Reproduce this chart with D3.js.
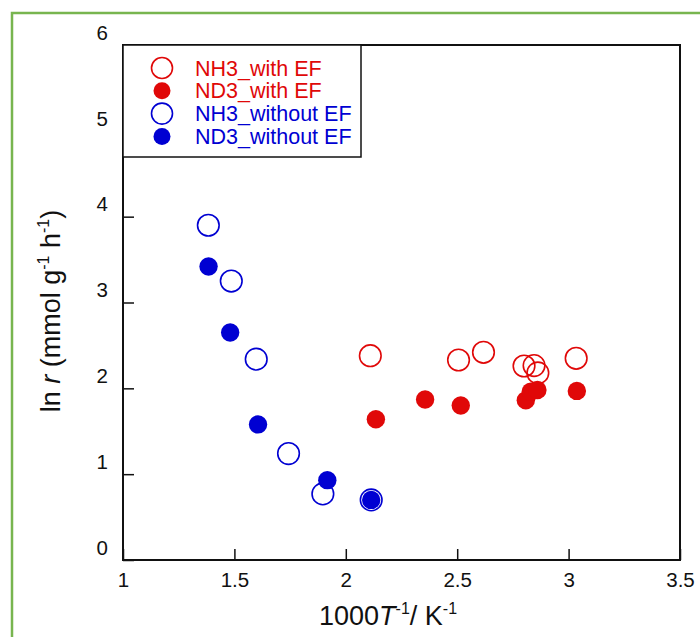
<!DOCTYPE html>
<html>
<head>
<meta charset="utf-8">
<script src="https://cdn.jsdelivr.net/npm/d3@7"></script>
<style>
body{margin:0;background:#fff;}
svg text{font-family:"Liberation Sans",Arial,sans-serif;}
</style>
</head>
<body>
<svg id="chart" width="700" height="637"></svg>
<script>
// axis ticks
const xTicks = [1, 1.5, 2, 2.5, 3, 3.5]
const yTicks = [0, 1, 2, 3, 4, 5, 6]

// series, [1000/T, ln r]
const nh3WithEF = [[2.11, 2.38], [2.506, 2.33], [2.618, 2.42], [2.80, 2.26], [2.845, 2.265], [2.862, 2.18], [3.034, 2.35]]
const nd3WithEF = [[2.135, 1.64], [2.356, 1.87], [2.516, 1.80], [2.808, 1.86], [2.83, 1.96], [2.86, 1.98], [3.037, 1.97]]
const nh3WithoutEF = [[1.383, 3.90], [1.486, 3.25], [1.598, 2.34], [1.743, 1.24], [1.897, 0.77], [2.114, 0.70]]
const nd3WithoutEF = [[1.384, 3.42], [1.481, 2.65], [1.606, 1.58], [1.917, 0.93], [2.114, 0.70]]

const legendLabels = ["NH3_with EF", "ND3_with EF", "NH3_without EF", "ND3_without EF"]

const red = "#e00808"
const blue = "#0000d2"

const series = [
    {data: nh3WithEF, color: red, filled: false},
    {data: nd3WithEF, color: red, filled: true},
    {data: nh3WithoutEF, color: blue, filled: false},
    {data: nd3WithoutEF, color: blue, filled: true}
]

const svg = d3.select("#chart")

// green frame round the figure
svg.append("rect")
    .attr("x", 12).attr("y", 13)
    .attr("width", 720).attr("height", 700)
    .attr("fill", "none")
    .attr("stroke", "#78b54f")
    .attr("stroke-width", 2.5)

const x = d3.scaleLinear().domain([1, 3.5]).range([123, 680])
const y = d3.scaleLinear().domain([0, 6]).range([560, 45])

// x axis, ticks pointing in
const xAxis = svg.append("g")
    .attr("transform", `translate(0,${y(0)})`)
    .call(d3.axisBottom(x).tickValues(xTicks).tickSizeInner(-11).tickSizeOuter(0).tickPadding(12).tickFormat(d3.format("")))
xAxis.select(".domain").remove()
xAxis.selectAll("line").attr("stroke", "#111").attr("stroke-width", 1.5)
xAxis.selectAll("text").attr("font-size", 20.5).attr("fill", "#111").attr("font-family", null)

const yAxis = svg.append("g")
    .attr("transform", `translate(${x(1)},0)`)
    .call(d3.axisLeft(y).tickValues(yTicks).tickSizeInner(-11).tickSizeOuter(0).tickPadding(15).tickFormat(d3.format("")))
yAxis.select(".domain").remove()
yAxis.selectAll("line").attr("stroke", "#111").attr("stroke-width", 1.5)
yAxis.selectAll("text").attr("font-size", 20.5).attr("fill", "#111").attr("font-family", null)
    .attr("dy", "-0.28em")

// plot box
svg.append("rect")
    .attr("x", x(1)).attr("y", y(6))
    .attr("width", x(3.5) - x(1)).attr("height", y(0) - y(6))
    .attr("fill", "none")
    .attr("stroke", "#111")
    .attr("stroke-width", 2)

// points
series.forEach(s => {
    svg.append("g").selectAll("circle")
        .data(s.data)
        .enter()
        .append("circle")
        .attr("cx", d => x(d[0]))
        .attr("cy", d => y(d[1]))
        .attr("r", s.filled ? 9.2 : 10.8)
        .attr("fill", s.filled ? s.color : "none")
        .attr("stroke", s.color)
        .attr("stroke-width", s.filled ? 0 : 1.6)
})

// legend
svg.append("rect")
    .attr("x", x(1)).attr("y", y(6))
    .attr("width", 238).attr("height", 112)
    .attr("fill", "#fff")
    .attr("stroke", "#111")
    .attr("stroke-width", 1.5)

const legend = svg.append("g").selectAll("g")
    .data(series)
    .enter()
    .append("g")
    .attr("transform", (d, i) => `translate(162,${68 + i * 22.8})`)

legend.append("circle")
    .attr("r", d => d.filled ? 8.5 : 10.5)
    .attr("fill", d => d.filled ? d.color : "none")
    .attr("stroke", d => d.color)
    .attr("stroke-width", d => d.filled ? 0 : 1.6)

legend.append("text")
    .attr("x", 33)
    .attr("dy", "0.35em")
    .attr("font-size", 21.5)
    .attr("fill", d => d.color)
    .text((d, i) => legendLabels[i])

// axis titles
const xTitle = svg.append("text")
    .attr("x", 388).attr("y", 625)
    .attr("text-anchor", "middle")
    .attr("font-size", 27)
    .attr("fill", "#111")
xTitle.append("tspan").text("1000")
xTitle.append("tspan").attr("font-style", "italic").text("T")
xTitle.append("tspan").attr("font-size", 16).attr("dy", -11).text("-1")
xTitle.append("tspan").attr("dy", 11).text("/ K")
xTitle.append("tspan").attr("font-size", 16).attr("dy", -11).text("-1")

const yTitle = svg.append("text")
    .attr("transform", "translate(60,311) rotate(-90)")
    .attr("text-anchor", "middle")
    .attr("font-size", 27)
    .attr("fill", "#111")
yTitle.append("tspan").text("ln ")
yTitle.append("tspan").attr("font-style", "italic").text("r")
yTitle.append("tspan").text(" (mmol g")
yTitle.append("tspan").attr("font-size", 16).attr("dy", -11).text("-1")
yTitle.append("tspan").attr("dy", 11).text(" h")
yTitle.append("tspan").attr("font-size", 16).attr("dy", -11).text("-1")
yTitle.append("tspan").attr("dy", 11).text(")")
</script>
</body>
</html>
